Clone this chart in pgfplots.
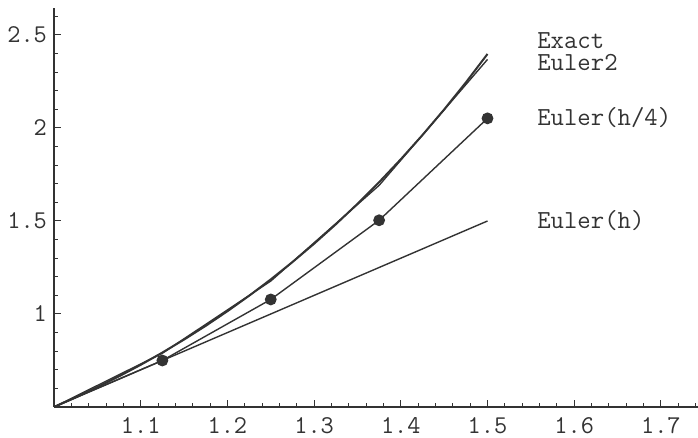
\documentclass[border=0pt]{standalone}
\usepackage{pgfplots}
\pgfplotsset{compat=1.18}
\definecolor{ink}{gray}{0.2}

% y' = x + 2y, y(1) = 0.5 : exact solution and three numerical approximations
\pgfplotstableread{
x      y
1.000  0.500000
1.025  0.551589
1.050  0.606463
1.075  0.664793
1.100  0.726753
1.125  0.792532
1.150  0.862324
1.175  0.936335
1.200  1.014781
1.225  1.097890
1.250  1.185902
1.275  1.279066
1.300  1.377649
1.325  1.481926
1.350  1.592191
1.375  1.708750
1.400  1.831926
1.425  1.962059
1.450  2.099504
1.475  2.244638
1.500  2.397852
}\exact

\pgfplotstableread{
x      y
1.000  0.500000
1.125  0.789063
1.250  1.177002
1.375  1.691635
1.500  2.368570
}\eulertwo

\pgfplotstableread{
x      y
1.000  0.500000
1.125  0.750000
1.250  1.078125
1.375  1.503906
1.500  2.051758
}\eulerquarter

\pgfplotstableread{
x      y
1.000  0.5
1.500  1.5
}\eulerh

\begin{document}
\begin{tikzpicture}
\begin{axis}[
  x=433.5pt, y=93pt,
  xmin=1, xmax=1.743, ymin=0.5, ymax=2.645,
  axis lines=left,
  axis line style={-, line width=0.7pt, color=ink},
  xtick={1.1,1.2,1.3,1.4,1.5,1.6,1.7},
  xticklabels={1.1,1.2,1.3,1.4,1.5,1.6,1.7},
  minor xtick={1.02,1.04,1.06,1.08,1.12,1.14,1.16,1.18,1.22,1.24,1.26,1.28,1.32,1.34,1.36,1.38,1.42,1.44,1.46,1.48,1.52,1.54,1.56,1.58,1.62,1.64,1.66,1.68,1.72,1.74},
  ytick={1,1.5,2,2.5},
  yticklabels={1,1.5,2,2.5},
  minor ytick={0.6,0.7,0.8,0.9,1.1,1.2,1.3,1.4,1.6,1.7,1.8,1.9,2.1,2.2,2.3,2.4,2.6},
  tick align=inside,
  major tick length=3.5pt, minor tick length=2pt,
  tick style={line width=0.5pt, color=ink},
  ticklabel style={font=\fontsize{12.8}{14}\ttfamily, text=ink},
  xticklabel style={yshift=-1.5pt},
  /pgf/number format/assume math mode=true,
  clip=false,
]
\coordinate (corner) at (axis cs:1,0.5);
\addplot[ink, line width=1.0pt] table {\exact};
\addplot[ink, line width=0.7pt] table {\eulertwo};
\addplot[ink, line width=0.7pt, mark=*, mark indices={2,3,4,5}, mark size=2.6pt, mark options={fill=ink, draw=ink}] table {\eulerquarter};
\addplot[ink, line width=0.7pt] table {\eulerh};

\begin{scope}[every node/.style={anchor=west, inner sep=0pt, text=ink, font=\fontsize{13}{14}\ttfamily}]
\node at (axis cs:1.557,2.468) {Exact};
\node at (axis cs:1.557,2.350) {Euler2};
\node at (axis cs:1.557,2.054) {Euler(h/4)};
\node at (axis cs:1.557,1.502) {Euler(h)};
\end{scope}
\end{axis}
\pgfresetboundingbox
\path ([shift={(-27pt,-15.5pt)}]corner) rectangle ([shift={(322pt,203.5pt)}]corner);
\end{tikzpicture}
\end{document}
